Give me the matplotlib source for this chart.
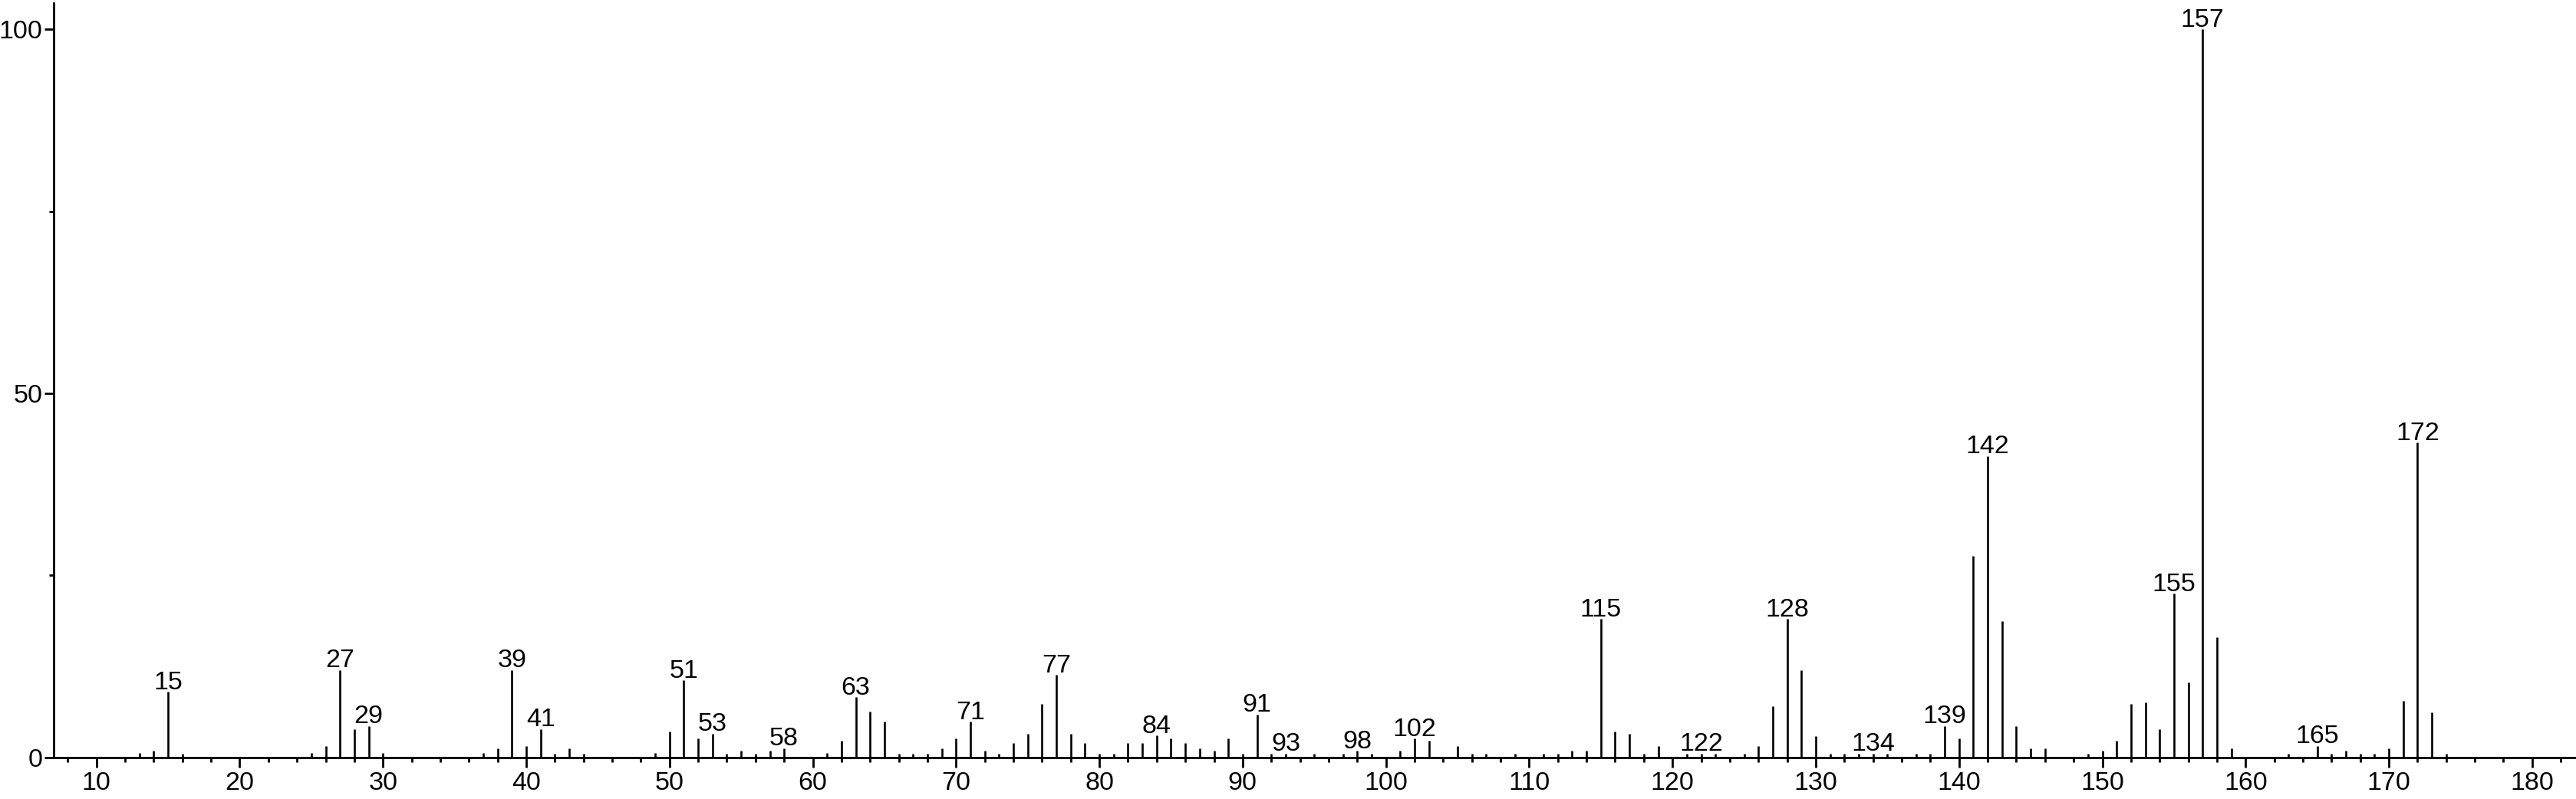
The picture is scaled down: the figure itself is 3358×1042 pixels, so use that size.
import matplotlib.pyplot as plt
from matplotlib.ticker import MultipleLocator

plt.rcParams['font.family'] = ['Liberation Sans', 'DejaVu Sans']

# m/z and relative intensity of each peak
mz = [13, 14, 15, 16, 25, 26, 27, 28, 29, 30,
      37, 38, 39, 40, 41, 42, 43, 44, 49, 50,
      51, 52, 53, 54, 55, 56, 57, 58, 61, 62,
      63, 64, 65, 66, 67, 68, 69, 70, 71, 72,
      73, 74, 75, 76, 77, 78, 79, 80, 81, 82,
      83, 84, 85, 86, 87, 88, 89, 90, 91, 92,
      93, 95, 97, 98, 99, 101, 102, 103, 105, 106,
      107, 109, 111, 112, 113, 114, 115, 116, 117, 118,
      119, 121, 122, 123, 125, 126, 127, 128, 129, 130,
      131, 132, 133, 134, 135, 137, 138, 139, 140, 141,
      142, 143, 144, 145, 146, 149, 150, 151, 152, 153,
      154, 155, 156, 157, 158, 159, 163, 165, 166, 167,
      168, 169, 170, 171, 172, 173, 174]
intensity = [0.6, 0.9, 9.0, 0.5, 0.6, 1.6, 12.0, 3.9, 4.3, 0.6,
             0.6, 1.25, 12.0, 1.6, 3.9, 0.5, 1.25, 0.5, 0.6, 3.6,
             10.6, 2.6, 3.25, 0.5, 0.9, 0.5, 0.9, 1.25, 0.6, 2.25,
             8.25, 6.3, 4.9, 0.5, 0.5, 0.5, 1.25, 2.6, 4.9, 0.9,
             0.5, 2.0, 3.25, 7.3, 11.3, 3.25, 2.0, 0.5, 0.5, 2.0,
             2.0, 3.0, 2.6, 2.0, 1.25, 0.9, 2.6, 0.5, 5.9, 0.5,
             0.5, 0.5, 0.5, 0.9, 0.5, 0.9, 2.6, 2.25, 1.6, 0.5,
             0.5, 0.5, 0.5, 0.5, 0.9, 0.9, 19.0, 3.6, 3.25, 0.5,
             1.6, 0.5, 0.5, 0.5, 0.5, 1.6, 7.0, 19.0, 12.0, 2.9,
             0.5, 0.5, 0.5, 0.5, 0.5, 0.5, 0.5, 4.3, 2.6, 27.7,
             41.4, 18.7, 4.3, 1.25, 1.25, 0.5, 0.9, 2.25, 7.3, 7.6,
             3.9, 22.5, 10.3, 100.0, 16.5, 1.2, 0.5, 1.6, 0.5, 0.9,
             0.5, 0.5, 1.2, 7.8, 43.2, 6.2, 0.5]

# peaks that carry a label
labeled = [15, 27, 29, 39, 41, 51, 53, 58, 63, 71, 77, 84, 91, 93, 98,
           102, 115, 122, 128, 134, 139, 142, 155, 157, 165, 172]

fig = plt.figure(figsize=(33.58, 10.42), dpi=100)
ax = fig.add_axes([0.02085, 0.0521, 0.9792, 0.9441])

ax.vlines(mz, 0, intensity, color='black', linewidth=1.9)

for m, h in zip(mz, intensity):
    if m in labeled:
        ax.annotate(str(m), (m, h), xytext=(0, 2.5), textcoords='offset points',
                    ha='center', va='baseline', fontsize=24.5,
                    annotation_clip=False)

ax.set_xlim(7.02, 183.07)
ax.set_ylim(0, 103.6)

ax.xaxis.set_major_locator(MultipleLocator(10))
ax.xaxis.set_minor_locator(MultipleLocator(2))
ax.yaxis.set_major_locator(MultipleLocator(50))
ax.yaxis.set_minor_locator(MultipleLocator(25))

ax.spines['top'].set_visible(False)
ax.spines['right'].set_visible(False)
ax.spines['left'].set_linewidth(2)
ax.spines['bottom'].set_linewidth(2)

ax.tick_params(axis='both', which='major', direction='out', length=9,
               width=2, labelsize=24.5)
ax.tick_params(axis='both', which='minor', direction='out', length=4, width=2)
ax.tick_params(axis='x', which='major', pad=4)
ax.tick_params(axis='y', which='major', pad=1.5)

fig.savefig('out.png', dpi=100)
